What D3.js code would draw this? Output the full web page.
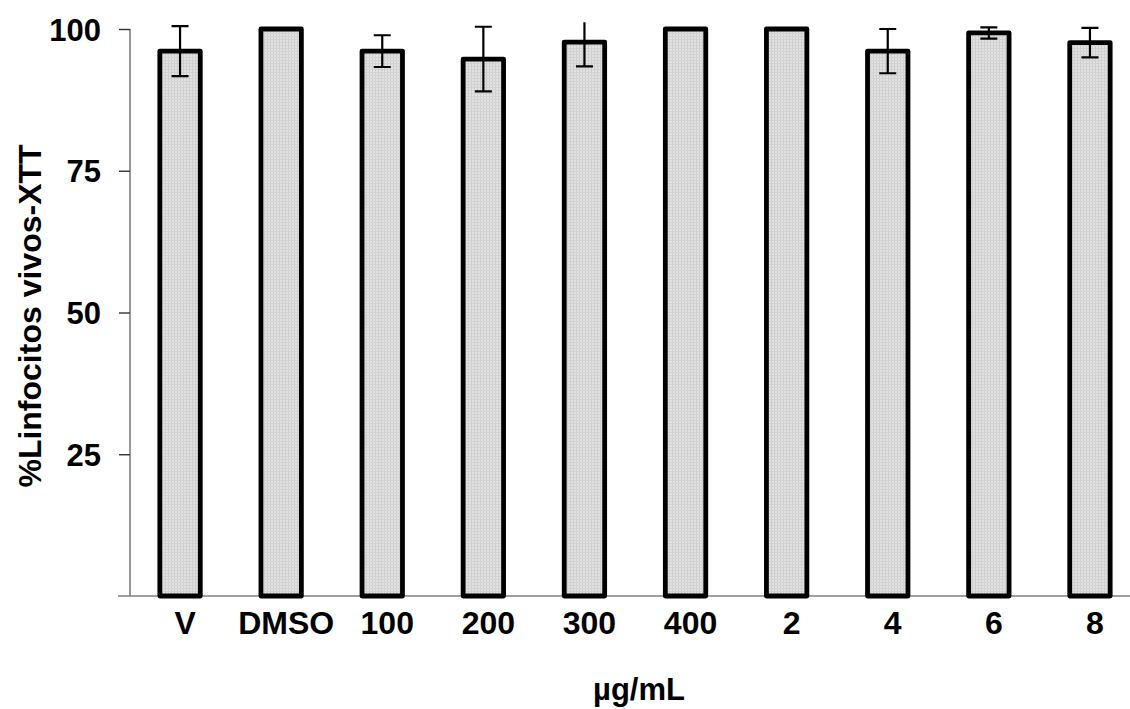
<!DOCTYPE html>
<html>
<head>
<meta charset="utf-8">
<script src="https://cdn.jsdelivr.net/npm/d3@7"></script>
<style>
  html, body { margin: 0; padding: 0; background: #fff; }
  svg { display: block; }
  text { font-family: "Liberation Sans", Arial, sans-serif; font-weight: bold; fill: #000; }
</style>
</head>
<body>
<svg id="chart" width="1130" height="709"></svg>
<script>
const categories = ["V", "DMSO", "100", "200", "300", "400", "2", "4", "6", "8"];
const values     = [96.1, 100, 96.1, 94.7, 97.7, 100, 100, 96.1, 99.3, 97.6];
const errors     = [4.4, 0, 2.8, 5.7, 4.3, 0, 0, 3.9, 1.0, 2.6];
const yTicks     = [25, 50, 75, 100];
const yTitle = "%Linfocitos vivos-XTT";
const xTitle = "\u00b5g/mL";

const svg = d3.select("#chart");
const W = 1130, H = 709;
const plot = { left: 130, right: 1140, top: 29, bottom: 596 };

const x = d3.scaleBand()
  .domain(categories)
  .range([plot.left - 0.5, plot.right + 0.5])
  .paddingInner(0.6)
  .paddingOuter(0.3);

const y = d3.scaleLinear().domain([0, 100]).range([plot.bottom, plot.top]);

// pattern fill
const defs = svg.append("defs");
const pat = defs.append("pattern")
  .attr("id", "dots").attr("patternUnits", "userSpaceOnUse")
  .attr("width", 3).attr("height", 3);
pat.append("rect").attr("width", 3).attr("height", 3).attr("fill", "#e2e2e2");
pat.append("rect").attr("x", 0).attr("y", 0).attr("width", 1).attr("height", 3).attr("fill", "#cdcdcd");
pat.append("rect").attr("x", 0).attr("y", 0).attr("width", 3).attr("height", 1).attr("fill", "#d2d2d2");

defs.append("clipPath").attr("id", "clip")
  .append("rect").attr("x", 0).attr("y", y(101.2)).attr("width", W).attr("height", H);

const data = categories.map((c, i) => ({ c, v: values[i], e: errors[i] }));

// axes lines
svg.append("line")
  .attr("x1", 118).attr("x2", W).attr("y1", y(0)).attr("y2", y(0))
  .attr("stroke", "#7f7f7f").attr("stroke-width", 1.6);

const yAxis = d3.axisLeft(y).tickValues(yTicks).tickSize(11).tickPadding(18);
const gy = svg.append("g").attr("transform", `translate(${plot.left},0)`).call(yAxis);
gy.select(".domain").attr("stroke", "#7f7f7f").attr("stroke-width", 1.6)
  .attr("d", `M0,${y(0)}V${y(100)}`);
gy.selectAll(".tick line").attr("stroke", "#333").attr("stroke-width", 1.4);
gy.selectAll(".tick text")
  .style("font-size", "31px").style("font-family", '"Liberation Sans", Arial, sans-serif')
  .style("font-weight", "bold").attr("fill", "#000").attr("dy", "0.36em");

// bars
svg.append("g").selectAll("rect").data(data).join("rect")
  .attr("x", d => x(d.c))
  .attr("y", d => y(d.v))
  .attr("width", x.bandwidth())
  .attr("height", d => y(0) - y(d.v))
  .attr("fill", "url(#dots)")
  .attr("stroke", "#000")
  .attr("stroke-width", 4.8)
  .attr("stroke-linejoin", "round");

// error bars
const eb = svg.append("g").attr("clip-path", "url(#clip)")
  .selectAll("g").data(data.filter(d => d.e > 0)).join("g")
  .attr("stroke", "#000").attr("stroke-width", 2.2);
const cx = d => x(d.c) + x.bandwidth() / 2;
const capW = 17;
eb.append("line").attr("x1", cx).attr("x2", cx)
  .attr("y1", d => y(d.v + d.e)).attr("y2", d => y(d.v - d.e));
eb.append("line").attr("x1", d => cx(d) - capW / 2).attr("x2", d => cx(d) + capW / 2)
  .attr("y1", d => y(d.v + d.e)).attr("y2", d => y(d.v + d.e));
eb.append("line").attr("x1", d => cx(d) - capW / 2).attr("x2", d => cx(d) + capW / 2)
  .attr("y1", d => y(d.v - d.e)).attr("y2", d => y(d.v - d.e));

// x labels
svg.append("g").selectAll("text").data(categories).join("text")
  .attr("x", d => x(d) + x.bandwidth() / 2 + 5)
  .attr("y", 634)
  .attr("text-anchor", "middle")
  .style("font-size", "32px")
  .text(d => d);

// titles
svg.append("text")
  .attr("transform", `translate(41,316) rotate(-90)`)
  .attr("text-anchor", "middle")
  .style("font-size", "32px")
  .text(yTitle);

svg.append("text")
  .attr("x", 639).attr("y", 700)
  .attr("text-anchor", "middle")
  .style("font-size", "31px")
  .text(xTitle);
</script>
</body>
</html>
